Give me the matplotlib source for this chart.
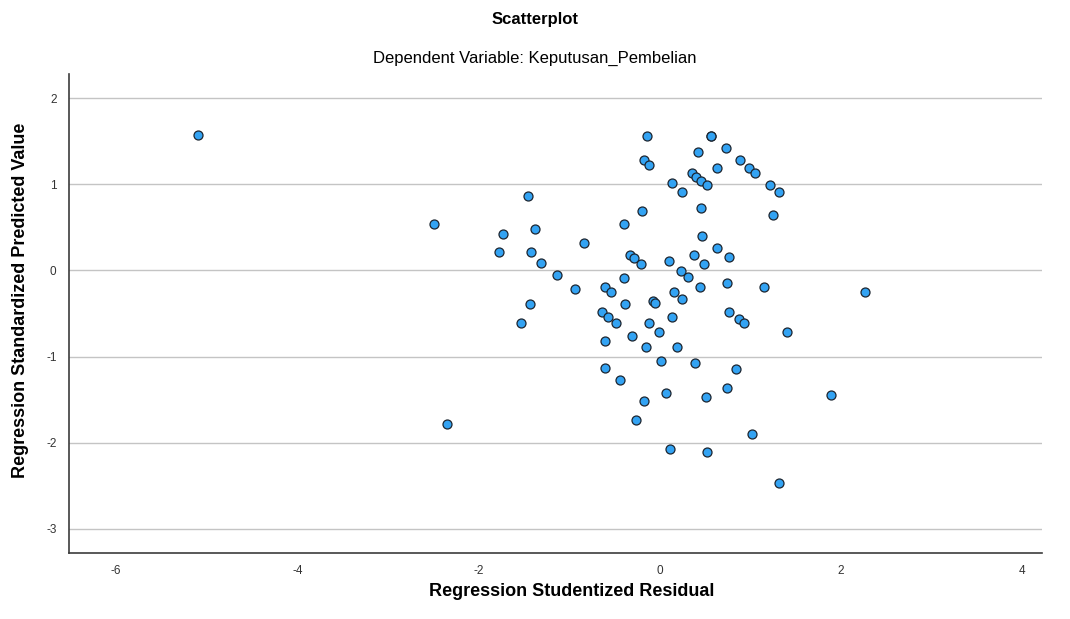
import matplotlib
matplotlib.use('Agg')
import matplotlib.pyplot as plt
import numpy as np

# residual vs predicted values
resid = [-5.10, -0.14, 0.57, 0.57, 0.73, 0.42, -0.17, -0.12, 0.89, 0.63,
         0.98, 1.05, 0.35, 0.40, 0.46, 0.52, 0.13, 0.25, 1.22, 1.31,
         -1.46, 0.46, -0.20, 1.25, -2.49, -0.39, -1.38, -1.73, 0.47, -0.84,
         0.63, -1.77, -1.42, -0.33, -0.28, 0.38, 0.76, 0.10, -0.21, 0.49,
         -1.31, 0.23, -1.14, 0.31, -0.39, 0.74, -0.94, -0.61, 0.44, 1.15,
         -0.54, 0.16, 2.26, 0.25, -0.08, -0.05, -0.38, -1.43, -0.64, 0.76,
         -0.57, 0.13, 0.87, -0.48, -0.12, -1.53, 0.93, -0.01, 1.40, -0.31,
         -0.61, -0.15, 0.19, 0.01, 0.39, -0.60, 0.84, -0.44, 0.74, 0.07,
         0.51, 1.89, -0.17, -0.26, -2.35, 1.02, 0.11, 0.52, 1.31]
pred = [1.57, 1.56, 1.56, 1.56, 1.42, 1.38, 1.28, 1.23, 1.28, 1.19,
        1.19, 1.13, 1.13, 1.09, 1.04, 0.99, 1.02, 0.91, 0.99, 0.91,
        0.87, 0.73, 0.69, 0.65, 0.54, 0.54, 0.48, 0.42, 0.40, 0.32,
        0.26, 0.22, 0.22, 0.18, 0.14, 0.18, 0.16, 0.11, 0.08, 0.08,
        0.09, -0.01, -0.05, -0.07, -0.09, -0.15, -0.21, -0.19, -0.19, -0.19,
        -0.25, -0.25, -0.25, -0.33, -0.35, -0.38, -0.39, -0.39, -0.48, -0.48,
        -0.54, -0.54, -0.56, -0.61, -0.61, -0.61, -0.61, -0.72, -0.72, -0.76,
        -0.82, -0.89, -0.89, -1.05, -1.07, -1.13, -1.15, -1.27, -1.37, -1.42,
        -1.47, -1.45, -1.52, -1.74, -1.78, -1.90, -2.07, -2.11, -2.47]

xticks = [-6, -4, -2, 0, 2, 4]
yticks = [-3, -2, -1, 0, 1, 2]

plt.rcParams['font.family'] = ['Liberation Sans', 'DejaVu Sans']
plt.rcParams['axes.unicode_minus'] = False

fig = plt.figure(figsize=(10.7, 6.19), dpi=100)
ax = fig.add_axes([0.0645, 0.107, 0.9095, 0.773])

ax.scatter(resid, pred, s=42, c='#33a3f3', edgecolors='#1c2530', linewidths=0.9, zorder=3)

ax.set_xlim(-6.52, 4.22)
ax.set_ylim(-3.28, 2.28)
ax.set_xticks(xticks)
ax.set_yticks(yticks)
ax.tick_params(length=0, labelsize=8.5, labelcolor='#333333', pad=9)
ax.grid(axis='y', color='#c4c4c4', linewidth=1)
ax.set_axisbelow(True)
for s in ['top', 'right']:
    ax.spines[s].set_visible(False)
for s in ['left', 'bottom']:
    ax.spines[s].set_color('#3c3c3c')
    ax.spines[s].set_linewidth(1.2)

fig.text(0.5, 0.968, 'Scatterplot', ha='center', va='center', fontsize=12, fontweight='bold')
fig.text(0.5, 0.905, 'Dependent Variable: Keputusan_Pembelian', ha='center', va='center',
         fontsize=12, color='black')
fig.text(0.534, 0.045, 'Regression Studentized Residual', ha='center', va='center',
         fontsize=13, fontweight='bold')
fig.text(0.019, 0.515, 'Regression Standardized Predicted Value', ha='center', va='center',
         rotation=90, fontsize=13, fontweight='bold')

plt.savefig('out.png', dpi=100)
